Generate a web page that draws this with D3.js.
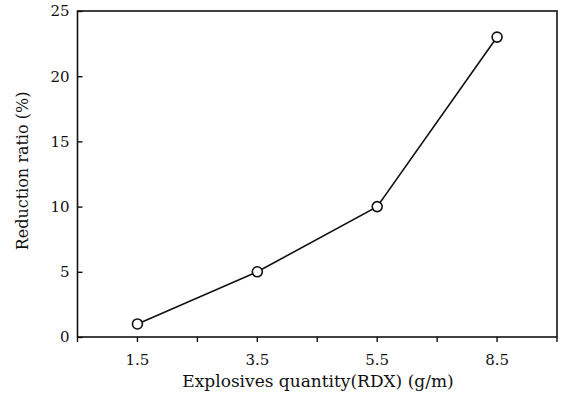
<!DOCTYPE html>
<html>
<head>
<meta charset="utf-8">
<script src="https://cdn.jsdelivr.net/npm/d3@7"></script>
<style>
  html, body { margin: 0; padding: 0; background: #fff; }
  svg { display: block; }
  text { font-family: "DejaVu Serif", "Liberation Serif", serif; fill: #111; }
</style>
</head>
<body>
<svg id="chart" width="561" height="394"></svg>
<script>
// RDX charge per metre and the resulting reduction ratio
const categories = ["1.5", "3.5", "5.5", "8.5"];
const reduction = [1.0, 5.0, 10.0, 23.0];
const yTicks = [0, 5, 10, 15, 20, 25];
const xTitle = "Explosives quantity(RDX) (g/m)";
const yTitle = "Reduction ratio (%)";

const svg = d3.select("#chart");
const margin = { left: 77.5, right: 4, top: 11, bottom: 57 };
const W = 561, H = 394;
const x0 = margin.left, x1 = W - margin.right;
const y0 = H - margin.bottom, y1 = margin.top;
const serif = "'DejaVu Serif', serif";

const x = d3.scaleBand().domain(categories).range([x0, x1]).padding(0);
const xc = d => x(d) + x.bandwidth() / 2;
const y = d3.scaleLinear().domain([0, 25]).range([y0, y1]);

// frame
svg.append("rect")
  .attr("x", x0).attr("y", y1)
  .attr("width", x1 - x0).attr("height", y0 - y1)
  .attr("fill", "none").attr("stroke", "#111").attr("stroke-width", 1.6);

// y axis: ticks point inward
const yAxis = d3.axisLeft(y).tickValues(yTicks).tickSize(-5).tickPadding(8).tickFormat(d3.format("d"));
const gy = svg.append("g").attr("transform", `translate(${x0},0)`).call(yAxis);
gy.select(".domain").remove();
gy.selectAll(".tick line").attr("stroke", "#111").attr("stroke-width", 1.4);
gy.selectAll(".tick text").attr("fill", "#111")
  .style("font-family", serif).style("font-size", "15px");

// x axis: ticks at category centres and band boundaries, pointing outward
const xAxis = d3.axisBottom(x).tickSize(5).tickPadding(12);
const gx = svg.append("g").attr("transform", `translate(0,${y0})`).call(xAxis);
gx.select(".domain").remove();
gx.selectAll(".tick line").attr("stroke", "#111").attr("stroke-width", 1.4);
gx.selectAll(".tick text").attr("fill", "#111")
  .style("font-family", serif).style("font-size", "15px");
// boundary ticks between bands
const edges = categories.map(c => x(c)).concat([x1]);
svg.append("g").selectAll("line").data(edges).join("line")
  .attr("x1", d => d).attr("x2", d => d)
  .attr("y1", y0).attr("y2", y0 + 5)
  .attr("stroke", "#111").attr("stroke-width", 1.4);

// series line
const line = d3.line().x((d, i) => xc(categories[i])).y(d => y(d));
svg.append("path").datum(reduction)
  .attr("d", line).attr("fill", "none")
  .attr("stroke", "#111").attr("stroke-width", 1.6);

// markers
svg.append("g").selectAll("circle").data(reduction).join("circle")
  .attr("cx", (d, i) => xc(categories[i])).attr("cy", d => y(d))
  .attr("r", 5).attr("fill", "#fff").attr("stroke", "#111").attr("stroke-width", 1.6);

// axis titles
svg.append("text")
  .attr("x", 318).attr("y", 387)
  .attr("text-anchor", "middle")
  .style("font-family", serif).style("font-size", "17px")
  .text(xTitle);
svg.append("text")
  .attr("transform", `translate(28,171) rotate(-90)`)
  .attr("text-anchor", "middle")
  .style("font-family", serif).style("font-size", "16px")
  .text(yTitle);
</script>
</body>
</html>
